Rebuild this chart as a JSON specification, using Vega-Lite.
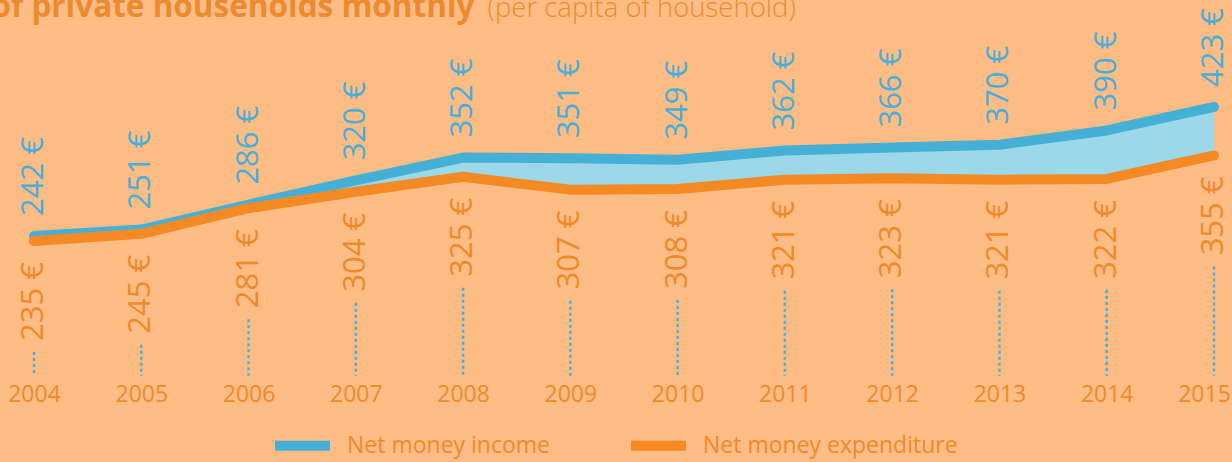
{
  "$schema": "https://vega.github.io/schema/vega-lite/v6.json",
  "width": 1232,
  "height": 378,
  "autosize": {"type": "none"},
  "padding": {"left": 0, "top": 0, "right": 0, "bottom": 84},
  "background": "#FCBC84",
  "config": {
    "view": {"stroke": null},
    "font": "Open Sans",
    "locale": {"number": {"decimal": ".", "thousands": ",", "grouping": [3], "currency": ["", " €"]}}
  },
  "data": {
    "values": [
      {"year": 2004, "income": 242, "expenditure": 235},
      {"year": 2005, "income": 251, "expenditure": 245},
      {"year": 2006, "income": 286, "expenditure": 281},
      {"year": 2007, "income": 320, "expenditure": 304},
      {"year": 2008, "income": 352, "expenditure": 325},
      {"year": 2009, "income": 351, "expenditure": 307},
      {"year": 2010, "income": 349, "expenditure": 308},
      {"year": 2011, "income": 362, "expenditure": 321},
      {"year": 2012, "income": 366, "expenditure": 323},
      {"year": 2013, "income": 370, "expenditure": 321},
      {"year": 2014, "income": 390, "expenditure": 322},
      {"year": 2015, "income": 423, "expenditure": 355}
    ]
  },
  "encoding": {
    "x": {
      "field": "year", "type": "quantitative",
      "scale": {"domain": [2003.683, 2015.168], "nice": false, "zero": false},
      "axis": {
        "values": [2004, 2005, 2006, 2007, 2008, 2009, 2010, 2011, 2012, 2013, 2014, 2015],
        "format": "d", "domain": false, "ticks": false, "grid": false,
        "labelFontSize": 23, "labelColor": "#EE8A2C", "labelFont": "Open Sans",
        "labelPadding": 5, "labelBound": false, "labelFlush": false, "labelOverlap": false,
        "labelOffset": {"condition": {"test": "datum.value === 2015", "value": -10}, "value": 0},
        "title": "(per capita of household)",
        "titleX": 487, "titleY": -362, "titleAngle": 0, "titleAlign": "left", "titleBaseline": "alphabetic",
        "titleFontSize": 27.5, "titleFontWeight": 300, "titleColor": "#EE8A2C", "titleFont": "Open Sans"
      }
    }
  },
  "layer": [
    {
      "mark": {"type": "area", "color": "#9AD8EA"},
      "encoding": {
        "y": {
          "field": "income", "type": "quantitative",
          "scale": {"domain": [42.8, 573], "nice": false, "zero": false},
          "axis": {
            "labels": false, "ticks": false, "domain": false, "grid": false,
            "title": "of private households monthly",
            "titleX": -9, "titleY": 16, "titleAngle": 0, "titleAlign": "left", "titleBaseline": "alphabetic",
            "titleFontSize": 31.5, "titleFontWeight": "bold", "titleColor": "#EC8A30", "titleFont": "Open Sans"
          }
        },
        "y2": {"field": "expenditure"}
      }
    },
    {
      "mark": {"type": "rule", "color": "#4AAED8", "strokeWidth": 2.5, "strokeDash": [3, 3], "yOffset": 111},
      "encoding": {
        "y": {"field": "expenditure", "type": "quantitative"},
        "y2": {"datum": 46}
      }
    },
    {
      "mark": {"type": "line", "strokeWidth": 10, "strokeCap": "round", "strokeJoin": "round"},
      "encoding": {
        "y": {"field": "income", "type": "quantitative"},
        "color": {
          "datum": "Net money income",
          "scale": {"domain": ["Net money income", "Net money expenditure"], "range": ["#46AFD6", "#F48A23"]},
          "legend": {
            "orient": "none", "legendX": 270, "legendY": 413, "direction": "horizontal",
            "title": null, "padding": 0,
            "symbolType": "stroke", "symbolSize": 3025, "symbolStrokeWidth": 10,
            "labelFontSize": 23, "labelColor": "#EE8A2C", "labelFont": "Open Sans", "labelLimit": 500,
            "labelOffset": 12, "columnPadding": 60
          }
        }
      }
    },
    {
      "mark": {"type": "line", "strokeWidth": 10, "strokeCap": "round", "strokeJoin": "round"},
      "encoding": {
        "y": {"field": "expenditure", "type": "quantitative"},
        "color": {"datum": "Net money expenditure"}
      }
    },
    {
      "mark": {"type": "text", "angle": 270, "align": "left", "baseline": "middle", "dx": 20, "fontSize": 31, "font": "Open Sans", "color": "#4AAED8"},
      "encoding": {
        "y": {"field": "income", "type": "quantitative"},
        "text": {"field": "income", "type": "quantitative", "format": "$d"}
      }
    },
    {
      "mark": {"type": "text", "angle": 270, "align": "right", "baseline": "middle", "dx": -21, "fontSize": 31, "font": "Open Sans", "color": "#EE8A2C"},
      "encoding": {
        "y": {"field": "expenditure", "type": "quantitative"},
        "text": {"field": "expenditure", "type": "quantitative", "format": "$d"}
      }
    }
  ]
}
